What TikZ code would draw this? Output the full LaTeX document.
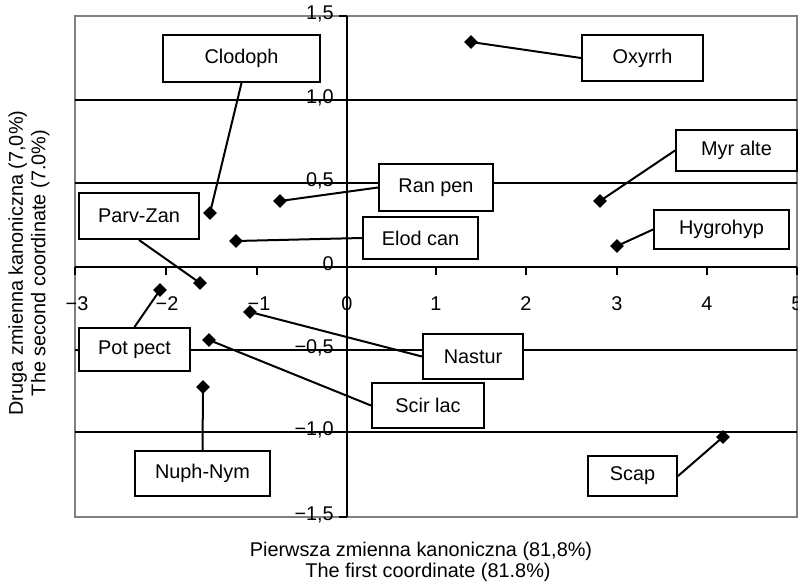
\documentclass[tikz,border=0pt]{standalone}
\usepackage{fontspec}
\setmainfont{Liberation Sans}
\usetikzlibrary{shapes.geometric}
\begin{document}
\begin{tikzpicture}[x=0.75pt,y=-0.75pt,
  txt/.style={font=\fontsize{14.9}{17}\selectfont},
  lbl/.style={txt,draw=black,line width=1.5pt,fill=white,inner sep=0pt},
  pnt/.style={diamond,fill=black,draw=none,inner sep=0pt,minimum width=10.5pt,minimum height=10.5pt},
  conn/.style={line width=1.5pt,black},
  gridln/.style={line width=1.5pt,black},
  frm/.style={line width=1.3pt,draw=black!50},
  tk/.style={line width=1.5pt,black}]
\useasboundingbox (0,0) rectangle (798,585);
% frame
\draw[frm] (75,16) rectangle (797,517);
% horizontal grid lines
\foreach \yy in {100,183,350,432}
  \draw[gridln] (75,\yy) -- (797,\yy);
% axes
\draw[gridln] (75,267) -- (797,267);
\draw[gridln] (347,16) -- (347,517);
% x ticks
\foreach \xx in {75,166,257,347,436,526,617,707,797}
  \draw[tk] (\xx,267) -- (\xx,275);
% y ticks
\foreach \yy in {16,100,183,267,350,432,517}
  \draw[tk] (339,\yy) -- (347,\yy);
% x tick labels
\node[txt] (xm3) at (77,304) {−3};
\node[txt] (xm2) at (167,304) {−2};
\node[txt] (xm1) at (259,304) {−1};
\node[txt] (x0) at (347,304) {0};
\node[txt] (x1) at (436,304) {1};
\node[txt] (x2) at (526,304) {2};
\node[txt] (x3) at (617,304) {3};
\node[txt] (x4) at (707,304) {4};
\node[txt] (x5) at (797,304) {5};
% y tick labels
\node[txt,anchor=east,inner sep=0pt] (y15) at (334,14) {1,5};
\node[txt,anchor=east,inner sep=0pt] (y10) at (334,98) {1,0};
\node[txt,anchor=east,inner sep=0pt] (y05) at (334,181) {0,5};
\node[txt,anchor=east,inner sep=0pt] (y00) at (334,264) {0};
\node[txt,anchor=east,inner sep=0pt] (ym05) at (334,348) {−0,5};
\node[txt,anchor=east,inner sep=0pt] (ym10) at (334,430) {−1,0};
\node[txt,anchor=east,inner sep=0pt] (ym15) at (334,515) {−1,5};
% axis titles
\node[txt,rotate=90,align=center] (ytitle) at (29,263) {Druga zmienna kanoniczna (7,0\%)\\The second coordinate (7.0\%)};
\node[txt] (xtitle1) at (421,551) {Pierwsza zmienna kanoniczna (81,8\%)};
\node[txt] (xtitle2) at (428,572) {The first coordinate (81.8\%)};
% label boxes
\node[lbl,minimum width=117.75pt,minimum height=35.25pt] (bclod) at (241.5,58.5) {Clodoph};
\node[lbl,minimum width=90.75pt,minimum height=34.5pt] (boxy) at (642.5,58) {Oxyrrh};
\node[lbl,minimum width=90pt,minimum height=34.5pt] (bparv) at (139,216) {Parv-Zan};
\node[lbl,minimum width=85.5pt,minimum height=35.25pt] (bran) at (436,187.5) {Ran pen};
\node[lbl,minimum width=86.25pt,minimum height=31.5pt] (belod) at (420.5,238) {Elod can};
\node[lbl,minimum width=90.75pt,minimum height=30.75pt] (bmyr) at (736.5,150.5) {Myr alte};
\node[lbl,minimum width=101.25pt,minimum height=29.25pt] (bhyg) at (721.5,229.5) {Hygrohyp};
\node[lbl,minimum width=83.25pt,minimum height=32.25pt] (bpot) at (134.5,349.5) {Pot pect};
\node[lbl,minimum width=75pt,minimum height=33.75pt] (bnas) at (473,356.5) {Nastur};
\node[lbl,minimum width=84pt,minimum height=33.75pt] (bscir) at (428,405.5) {Scir lac};
\node[lbl,minimum width=101.25pt,minimum height=33.75pt] (bnuph) at (202.5,473.5) {Nuph-Nym};
\node[lbl,minimum width=66.75pt,minimum height=30pt] (bscap) at (632.5,476) {Scap};
% data points
\node[pnt] (poxy) at (471,42) {};
\node[pnt] (pclod) at (210,213) {};
\node[pnt] (pparv) at (200,283) {};
\node[pnt] (pran) at (280,201) {};
\node[pnt] (pelod) at (236,241) {};
\node[pnt] (pmyr) at (600,201) {};
\node[pnt] (phyg) at (617,246) {};
\node[pnt] (ppot) at (160,290) {};
\node[pnt] (pnas) at (250,312) {};
\node[pnt] (pscir) at (209,340) {};
\node[pnt] (pnuph) at (203,387) {};
\node[pnt] (pscap) at (723,437) {};
% connectors
\draw[conn] (poxy.center) -- (boxy.west);
\draw[conn] (pclod.center) -- (bclod.south);
\draw[conn] (pparv.center) -- (bparv.south);
\draw[conn] (pran.center) -- (bran.west);
\draw[conn] (pelod.center) -- (belod.west);
\draw[conn] (pmyr.center) -- (bmyr.west);
\draw[conn] (phyg.center) -- (bhyg.west);
\draw[conn] (ppot.center) -- (bpot.north);
\draw[conn] (pnas.center) -- (bnas.west);
\draw[conn] (pscir.center) -- (bscir.west);
\draw[conn] (pnuph.center) -- (bnuph.north);
\draw[conn] (pscap.center) -- (bscap.east);
\end{tikzpicture}
\end{document}
